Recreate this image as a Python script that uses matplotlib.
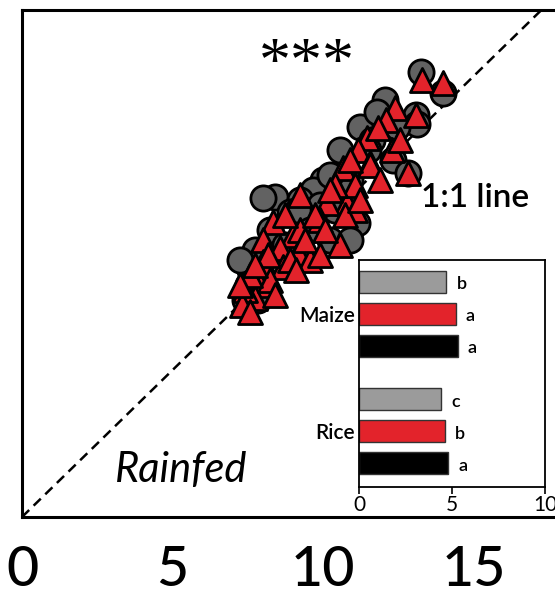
import numpy as np
import matplotlib
matplotlib.use("Agg")
import matplotlib.pyplot as plt

plt.rcParams['font.family'] = ['Lato', 'DejaVu Sans']

# Points du nuage (gris = cercles, rouge = triangles)
cercles_x = [13.26, 13.99, 12.06, 13.09, 13.12, 12.46, 11.23, 12.33, 12.82, 10.00,
             9.67, 10.73, 8.41, 8.01, 9.24, 8.90, 11.13, 10.40, 7.74, 7.57,
             7.51, 8.24, 9.40, 9.90, 10.90, 10.56, 11.63, 10.23, 7.84, 8.74,
             9.17, 10.23, 11.50, 7.24, 7.41, 9.57, 10.90, 11.79]
cercles_y = [15.14, 14.42, 14.18, 13.67, 13.37, 13.27, 13.27, 12.14, 11.70, 11.46,
             11.12, 10.95, 10.88, 10.85, 10.78, 10.37, 10.00, 10.44, 9.08, 8.40,
             7.89, 9.76, 9.93, 10.61, 11.46, 12.48, 12.82, 9.42, 7.38, 9.25,
             10.44, 11.63, 12.48, 8.74, 7.38, 9.76, 9.42, 13.78]

triangles_x = [13.29, 13.99, 12.39, 13.09, 12.09, 11.46, 11.16, 12.29, 11.56, 12.82,
               10.66, 11.56, 10.80, 10.13, 9.90, 8.34, 10.56, 9.00, 8.01, 8.57,
               9.17, 9.57, 8.01, 8.67, 7.91, 7.74, 7.41, 7.31, 8.24, 9.24,
               11.06, 10.40, 9.73, 8.90, 7.57, 11.06, 11.89, 9.40, 9.24, 8.74,
               10.07, 10.73, 11.23, 10.23, 8.17, 7.74, 8.41, 7.24, 9.10, 9.90,
               10.90, 11.83, 12.56, 7.57]
triangles_y = [14.86, 14.76, 13.91, 13.67, 13.50, 12.89, 12.48, 12.48, 12.04, 11.70,
               11.87, 11.97, 10.68, 10.68, 10.10, 10.03, 9.25, 9.59, 9.42, 9.15,
               8.98, 8.74, 8.67, 8.50, 7.89, 7.45, 7.72, 7.21, 8.06, 9.76,
               11.29, 11.29, 10.27, 8.74, 8.23, 10.44, 11.46, 9.42, 10.95, 10.27,
               9.76, 10.27, 10.78, 11.12, 8.91, 8.57, 7.55, 7.89, 8.40, 8.91,
               12.14, 13.23, 12.82, 6.97]

# Barres de l'encart
cultures = ['Maize', 'Rice']
valeurs = {
    'Maize': [4.7, 5.2, 5.3],
    'Rice': [4.4, 4.6, 4.8],
}
lettres = {
    'Maize': ['b', 'a', 'a'],
    'Rice': ['c', 'b', 'a'],
}
couleurs_barres = ['#9b9b9b', '#e3232b', '#000000']
ticks_principaux = [0, 5, 10, 15]
ticks_encart = [0, 5, 10]

fig = plt.figure(figsize=(5.55, 5.97), dpi=100)

# Axe principal (le bord droit sort de la figure)
ax = fig.add_axes([22 / 555, 80 / 597, 542 / 555, 507 / 597])
ax.set_xlim(0, 18)
ax.set_ylim(0, 17.25)

ax.plot([0, 18], [0, 18], linestyle=(0, (4, 2.5)), color='black', lw=1.8, zorder=1)

ax.scatter(cercles_x, cercles_y, s=330, marker='o', color='#626262',
           edgecolor='black', linewidth=2.0, zorder=2)
ax.scatter(triangles_x, triangles_y, s=300, marker='^', color='#e3232b',
           edgecolor='black', linewidth=2.0, zorder=3)

ax.set_xticks(ticks_principaux)
ax.set_xticklabels([str(t) for t in ticks_principaux], fontsize=40, weight='medium')
ax.tick_params(axis='x', length=0, pad=20)
ax.set_yticks([])
for s in ax.spines.values():
    s.set_linewidth(2.2)

ax.text(9.45, 15.35, '***', fontsize=46, family='Liberation Serif',
        ha='center', va='center')
ax.text(13.25, 10.85, '1:1 line', fontsize=24, weight='semibold', ha='left', va='center')
ax.text(3.1, 1.6, 'Rainfed', fontsize=30, style='italic', ha='left', va='center')

# Encart : diagramme en barres horizontales
axi = fig.add_axes([359 / 555, 110 / 597, 186 / 555, 227 / 597])
pos_labels = []
for g, culture in enumerate(cultures):
    for i, v in enumerate(valeurs[culture]):
        y = g * 3.66 + i
        axi.barh(y, v, height=0.68, color=couleurs_barres[i],
                 edgecolor='#333333', linewidth=1.0)
        axi.text(v + 0.55, y + 0.08, lettres[culture][i], fontsize=13,
                 weight='semibold', ha='left', va='center')
    pos_labels.append(g * 3.66 + 1)

axi.set_xlim(0, 10)
axi.set_ylim(6.41, -0.68)
axi.set_xticks(ticks_encart)
axi.set_xticklabels([str(t) for t in ticks_encart], fontsize=15)
axi.tick_params(axis='x', length=5, width=1.2, pad=1)
axi.set_yticks(pos_labels)
axi.set_yticklabels(cultures, fontsize=15, weight='semibold')
axi.tick_params(axis='y', length=0, pad=3)
for s in axi.spines.values():
    s.set_linewidth(1.3)

fig.savefig('out.png', dpi=100)
